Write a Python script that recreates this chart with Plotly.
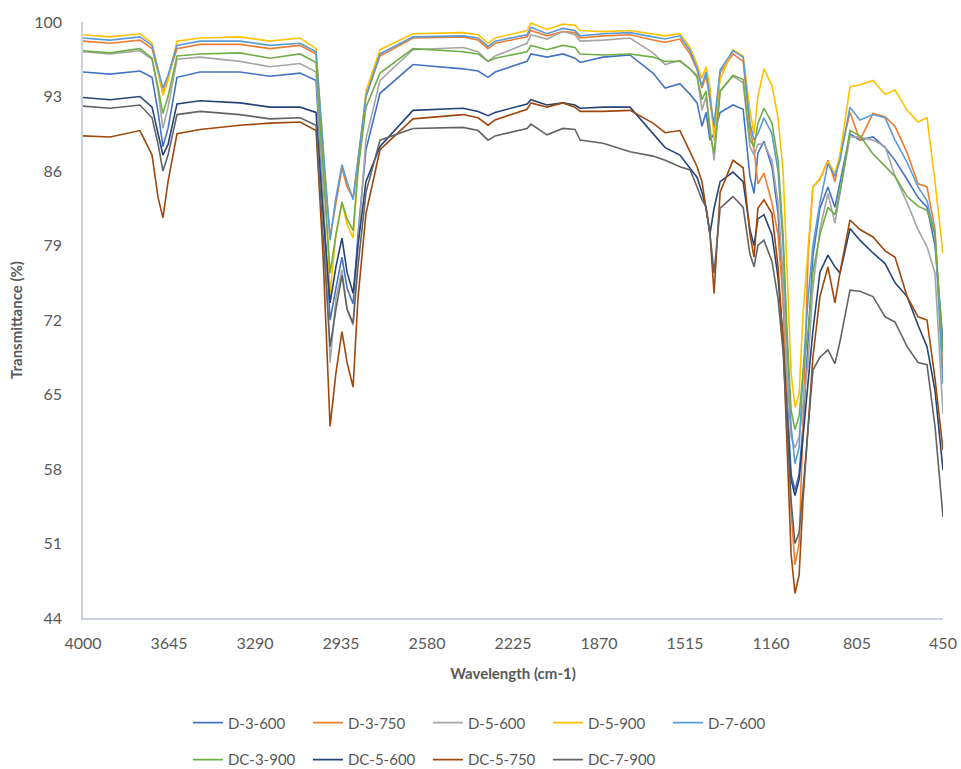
import plotly.graph_objects as go

# FTIR transmittance spectra of the D / DC sample series
wavenumber = [4000, 3888, 3765, 3715, 3690, 3670, 3649, 3612, 3517, 3352,
              3228, 3104, 3038, 3009, 2980, 2956, 2931, 2910, 2885, 2865,
              2832, 2774, 2638, 2431, 2369, 2328, 2299, 2167, 2151, 2085,
              2019, 1969, 1948, 1853, 1742, 1647, 1597, 1536, 1494, 1465,
              1445, 1428, 1412, 1395, 1370, 1317, 1275, 1247, 1230, 1214,
              1189, 1156, 1131, 1110, 1094, 1077, 1061, 1044, 1028, 1007,
              987, 958, 925, 896, 875, 834, 793, 739, 689, 648,
              598, 553, 516, 483, 450]

d_3_600 = [95.3, 95.1, 95.4, 94.8, 91.5, 88.3, 90.0, 94.8, 95.3, 95.3,
           94.9, 95.2, 94.5, 83.0, 72.0, 75.0, 77.9, 75.0, 73.5, 80.0,
           88.0, 93.3, 96.0, 95.6, 95.4, 94.8, 95.3, 96.3, 97.0, 96.7,
           97.0, 96.6, 96.2, 96.7, 96.9, 95.2, 93.8, 94.2, 93.2, 92.4,
           90.2, 91.5, 88.9, 89.5, 91.5, 92.2, 91.8, 85.5, 83.9, 87.7,
           88.8, 86.4, 82.0, 74.0, 65.0, 57.5, 56.0, 57.5, 62.0, 70.0,
           78.0, 82.5, 84.5, 82.6, 85.0, 89.5, 88.9, 89.2, 88.2, 87.0,
           85.2, 83.5, 82.6, 79.0, 70.0]

d_3_750 = [98.2, 98.0, 98.3, 97.5, 95.3, 93.3, 94.8, 97.5, 97.9, 97.9,
           97.5, 97.8, 97.0, 87.5, 79.8, 83.0, 86.3, 84.5, 83.5, 87.0,
           93.0, 96.8, 98.5, 98.6, 98.3, 97.5, 98.0, 98.6, 99.2, 98.7,
           99.1, 99.0, 98.5, 98.7, 98.8, 98.3, 98.1, 98.4, 97.0, 95.5,
           93.8, 95.0, 92.5, 90.0, 95.2, 97.0, 96.3, 90.0, 88.0, 84.8,
           85.8, 83.0, 80.0, 74.0, 64.0, 54.0, 49.0, 51.0, 62.0, 78.0,
           84.5, 85.2, 87.0, 85.0, 87.5, 91.5, 88.9, 91.4, 91.1, 90.2,
           87.7, 84.8, 84.5, 80.5, 67.0]

d_5_600 = [97.2, 97.0, 97.3, 96.5, 93.5, 90.0, 92.0, 96.5, 96.7, 96.3,
           95.8, 96.1, 95.3, 84.0, 68.0, 74.0, 76.7, 73.0, 71.5, 79.0,
           89.0, 94.5, 97.4, 97.6, 97.2, 96.3, 96.8, 98.0, 98.8, 98.4,
           99.1, 98.8, 98.2, 98.3, 98.5, 97.1, 96.0, 96.4, 95.6, 95.0,
           91.7, 93.0, 90.2, 87.0, 93.5, 94.9, 94.3, 88.3, 87.5, 88.5,
           88.6, 87.0, 83.0, 76.0, 67.0, 61.0, 60.0, 61.0, 64.0, 68.0,
           75.0, 80.5, 83.9, 81.1, 84.0, 89.2, 89.2, 88.9, 88.3, 85.5,
           83.0, 80.5, 78.9, 76.4, 63.2]

d_5_900 = [98.8, 98.6, 98.9, 98.0, 95.5, 93.1, 94.5, 98.2, 98.5, 98.6,
           98.2, 98.5, 97.5, 88.0, 74.5, 80.0, 83.0, 81.0, 79.7, 86.0,
           93.5, 97.4, 98.9, 99.0, 98.8, 98.0, 98.5, 99.2, 99.9, 99.3,
           99.8, 99.7, 99.2, 99.1, 99.2, 98.9, 98.7, 98.9, 97.6, 96.0,
           94.7, 95.8, 93.9, 88.9, 94.6, 97.4, 96.8, 91.7, 89.5, 93.0,
           95.6, 94.0, 91.0, 86.0, 77.0, 67.0, 63.8, 65.0, 72.5, 79.0,
           84.5, 85.3, 86.9, 85.8, 87.5, 93.9, 94.1, 94.5, 93.2, 93.6,
           91.7, 90.6, 91.0, 85.0, 78.2]

d_7_600 = [98.5, 98.3, 98.6, 97.8, 95.5, 93.8, 95.0, 97.8, 98.2, 98.2,
           97.8, 98.0, 97.2, 88.0, 79.5, 83.5, 86.6, 85.0, 83.3, 87.0,
           93.0, 97.0, 98.6, 98.7, 98.5, 97.7, 98.2, 98.8, 99.5, 98.9,
           99.4, 99.2, 98.7, 98.9, 99.0, 98.6, 98.4, 98.7, 97.3, 95.6,
           94.0, 95.3, 92.7, 90.3, 95.5, 97.3, 96.7, 90.5, 88.9, 89.5,
           91.0, 89.5, 86.0, 79.0, 70.0, 62.0, 58.5, 60.0, 67.0, 74.0,
           79.0, 83.0, 86.7, 85.5, 87.0, 92.0, 90.8, 91.3, 91.0, 88.9,
           86.8, 84.5, 83.2, 80.0, 66.0]

dc_3_900 = [97.3, 97.1, 97.5, 96.6, 93.8, 91.4, 93.0, 96.8, 97.0, 97.1,
            96.6, 97.0, 96.2, 86.0, 76.4, 80.0, 83.1, 81.5, 80.4, 86.0,
            92.0, 95.2, 97.5, 97.2, 97.0, 96.3, 96.6, 97.2, 97.8, 97.4,
            97.8, 97.6, 97.0, 96.9, 97.0, 96.7, 96.3, 96.3, 95.6, 94.8,
            92.7, 93.5, 89.5, 87.7, 93.5, 95.0, 94.6, 88.9, 88.3, 90.5,
            91.9, 90.5, 87.0, 80.0, 71.0, 63.5, 61.7, 63.0, 67.0, 71.0,
            76.5, 80.0, 82.6, 81.9, 84.0, 89.8, 89.3, 87.6, 86.5, 85.5,
            83.6, 82.7, 82.3, 80.0, 69.0]

dc_5_600 = [92.9, 92.7, 93.0, 92.0, 89.5, 87.5, 88.5, 92.3, 92.6, 92.4,
            92.0, 92.0, 91.5, 82.0, 73.6, 77.0, 79.7, 76.5, 74.5, 79.0,
            85.0, 88.3, 91.7, 91.9, 91.6, 91.2, 91.5, 92.3, 92.7, 92.2,
            92.4, 92.2, 91.9, 92.0, 92.0, 89.5, 88.2, 87.5, 86.2, 85.4,
            84.0, 82.5, 80.1, 82.5, 85.0, 85.9, 85.0, 80.5, 79.0, 81.5,
            81.9, 80.0, 76.0, 70.0, 63.0, 57.0, 55.5, 57.0, 61.0, 66.0,
            71.0, 76.5, 78.1, 77.0, 76.4, 80.6, 79.5, 78.3, 77.3, 75.5,
            74.2, 71.5, 69.5, 65.4, 57.9]

dc_5_750 = [89.3, 89.2, 89.8, 87.5, 83.5, 81.6, 85.0, 89.5, 89.9, 90.3,
            90.5, 90.6, 89.8, 78.0, 62.0, 67.0, 70.9, 68.0, 65.7, 74.0,
            82.0, 88.0, 90.9, 91.3, 91.0, 90.3, 90.8, 91.8, 92.4, 92.0,
            92.4, 92.0, 91.6, 91.6, 91.7, 90.5, 89.6, 89.8, 87.8, 86.4,
            85.0, 82.6, 80.1, 74.5, 84.0, 87.0, 86.3, 80.1, 77.9, 82.5,
            83.3, 82.0, 77.0, 70.0, 60.0, 50.0, 46.3, 48.0, 55.0, 62.0,
            68.5, 74.2, 77.0, 73.6, 76.5, 81.4, 80.5, 79.8, 78.5, 77.9,
            74.2, 72.3, 72.0, 66.5, 59.8]

dc_7_900 = [92.1, 91.9, 92.2, 91.0, 88.5, 86.0, 87.5, 91.3, 91.6, 91.3,
            90.9, 91.0, 90.3, 80.0, 69.5, 73.0, 76.2, 73.0, 71.7, 77.0,
            84.0, 88.9, 90.0, 90.1, 89.8, 88.9, 89.3, 90.0, 90.4, 89.4,
            90.0, 89.9, 88.9, 88.6, 87.8, 87.4, 87.0, 86.4, 86.1, 84.5,
            83.3, 82.6, 80.1, 76.4, 82.5, 83.6, 82.6, 78.2, 77.0, 79.0,
            79.5, 77.5, 74.0, 69.0, 62.0, 55.0, 51.0, 52.0, 56.0, 61.7,
            67.3, 68.5, 69.2, 67.9, 70.0, 74.8, 74.7, 74.2, 72.3, 71.8,
            69.5, 68.0, 67.8, 62.0, 53.5]

x_ticks = [4000, 3645, 3290, 2935, 2580, 2225, 1870, 1515, 1160, 805, 450]
y_ticks = [44, 51, 58, 65, 72, 79, 86, 93, 100]

# name, values, colour, legend row
series = [
    ("D-3-600", d_3_600, "#4472C4", "legend"),
    ("D-3-750", d_3_750, "#ED7D31", "legend"),
    ("D-5-600", d_5_600, "#A5A5A5", "legend"),
    ("D-5-900", d_5_900, "#FFC000", "legend"),
    ("D-7-600", d_7_600, "#5B9BD5", "legend"),
    ("DC-3-900", dc_3_900, "#70AD47", "legend2"),
    ("DC-5-600", dc_5_600, "#264478", "legend2"),
    ("DC-5-750", dc_5_750, "#9E480E", "legend2"),
    ("DC-7-900", dc_7_900, "#636363", "legend2"),
]

fig = go.Figure()
for name, vals, color, leg in series:
    assert len(vals) == len(wavenumber)
    fig.add_trace(go.Scatter(
        x=wavenumber, y=vals, mode="lines", name=name,
        line=dict(color=color, width=1.6), legend=leg,
    ))

axis_line = "#CBD2DF"
text_color = "#595959"
font_family = "Lato, 'Open Sans', sans-serif"

legend_common = dict(
    orientation="h", xanchor="left", yanchor="middle",
    entrywidth=75, entrywidthmode="pixels",
    font=dict(size=15, color=text_color, family=font_family),
    bgcolor="rgba(0,0,0,0)", itemwidth=30,
)

fig.update_layout(
    width=961, height=769,
    margin=dict(l=83, r=18, t=22, b=151, autoexpand=False),
    paper_bgcolor="white", plot_bgcolor="white",
    font=dict(family=font_family, color=text_color, size=16),
    xaxis=dict(
        range=[4000, 450], tickmode="array", tickvals=x_ticks,
        ticktext=[str(t) for t in x_ticks],
        showgrid=False, zeroline=False, showline=True,
        linecolor=axis_line, linewidth=1.5, ticks="",
        ticklabelstandoff=10,
        tickfont=dict(size=16, color=text_color),
        title=dict(text="<b>Wavelength (cm-1)</b>", standoff=18,
                   font=dict(size=15, color=text_color)),
    ),
    yaxis=dict(
        range=[44, 100], tickmode="array", tickvals=y_ticks,
        showgrid=False, zeroline=False, showline=True,
        linecolor=axis_line, linewidth=1.5, ticks="",
        ticklabelstandoff=16,
        tickfont=dict(size=16, color=text_color),
        title=dict(text="<b>Transmittance (%)</b>", standoff=8,
                   font=dict(size=15, color=text_color)),
    ),
    legend=dict(x=0.122, y=-0.176, **legend_common),
    legend2=dict(x=0.122, y=-0.238, **legend_common),
)

fig.write_html("out.html")
